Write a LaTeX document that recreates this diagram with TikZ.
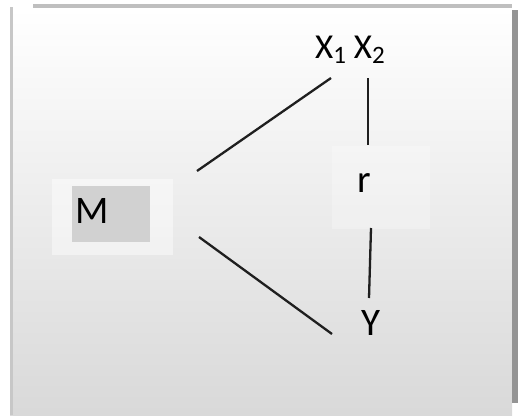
\documentclass[tikz,border=0pt]{standalone}
\usepackage{fontspec}
\setmainfont{Carlito}
\newcommand{\lowsub}[1]{\raisebox{-5pt}{\fontsize{25}{25}\selectfont #1}}
\tikzset{
  link/.style={line width=2.3pt, color=black!88},
  lbl/.style={anchor=base, inner sep=0pt, font=\fontsize{39}{44}\selectfont},
}
\begin{document}
\begin{tikzpicture}[x=1pt, y=-1pt]
\useasboundingbox (0,0) rectangle (526,415);
% panel
\shade [top color=white, bottom color=black!15] (10,8) rectangle (512,415);
\fill [black!25] (33,4) rectangle (512,8);
\fill [black!22] (10,7) rectangle (13,415);
\fill [black!42] (512,10) rectangle (518,403);
% boxes
\node [fill=white, fill opacity=0.45, minimum width=121pt, minimum height=76pt] (mbox) at (112.5,217) {};
\node [fill=black!18, minimum width=78pt, minimum height=56pt] (mfill) at (111,214) {};
\node [fill=white, fill opacity=0.25, minimum width=98pt, minimum height=83pt] (rbox) at (381,187) {};
% labels
\node [lbl] (m) at (92.5,223) {M};
\node [lbl] (r) at (364,192) {r};
\node [lbl] (y) at (371,335) {Y};
\node [lbl, font=\fontsize{35}{40}\selectfont] (xx) at (350,58) {X\lowsub{1} X\lowsub{2}};
% ends
\coordinate (mup) at (197,171);
\coordinate (mdown) at (199,237);
\coordinate (xleft) at (331,78);
\coordinate (xright) at (368,78);
\coordinate (rtop) at (368,145);
\coordinate (rbot) at (371,228);
\coordinate (ytop) at (369,298);
\coordinate (yleft) at (332,334);
% lines
\draw [link] (mup) -- (xleft);
\draw [link] (mdown) -- (yleft);
\draw [link] (xright) -- (rtop);
\draw [link] (rbot) -- (ytop);
\end{tikzpicture}
\end{document}
